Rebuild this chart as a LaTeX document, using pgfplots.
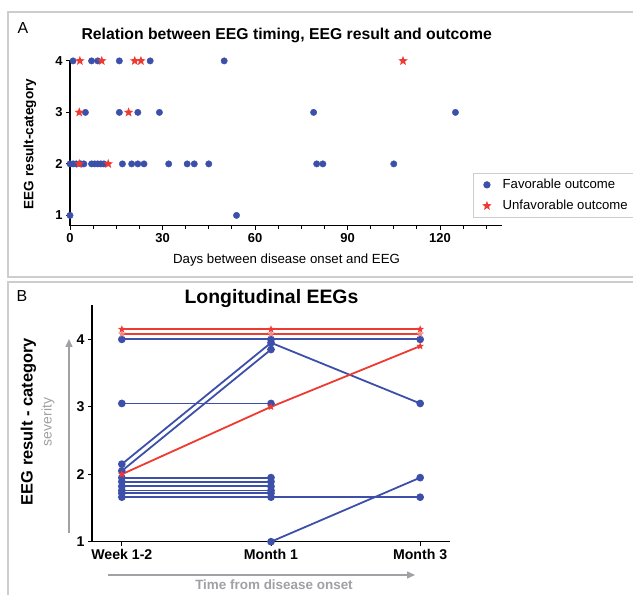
\documentclass[border=0pt]{standalone}
\usepackage{pgfplots}
\pgfplotsset{compat=1.18}
\usepackage{fontspec}
\setmainfont{Liberation Sans}
\usetikzlibrary{arrows.meta}
\definecolor{cblue}{RGB}{60,80,170}
\definecolor{cred}{RGB}{238,58,48}
\definecolor{cpink}{RGB}{240,140,140}
\definecolor{fgray}{RGB}{205,205,205}
\definecolor{tgray}{RGB}{160,160,165}
\pgfdeclareplotmark{fstar}{%
\pgfpathmoveto{\pgfpointpolar{90}{\pgfplotmarksize}}%
\pgfpathlineto{\pgfpointpolar{126}{0.42\pgfplotmarksize}}%
\pgfpathlineto{\pgfpointpolar{162}{\pgfplotmarksize}}%
\pgfpathlineto{\pgfpointpolar{198}{0.42\pgfplotmarksize}}%
\pgfpathlineto{\pgfpointpolar{234}{\pgfplotmarksize}}%
\pgfpathlineto{\pgfpointpolar{270}{0.42\pgfplotmarksize}}%
\pgfpathlineto{\pgfpointpolar{306}{\pgfplotmarksize}}%
\pgfpathlineto{\pgfpointpolar{342}{0.42\pgfplotmarksize}}%
\pgfpathlineto{\pgfpointpolar{18}{\pgfplotmarksize}}%
\pgfpathlineto{\pgfpointpolar{54}{0.42\pgfplotmarksize}}%
\pgfpathclose
\pgfusepathqfill}
\pgfplotsset{
  bl/.style={cblue, line width=1.8bp, mark=*, mark size=2.9bp, mark options={solid}},
  rd/.style={cred, line width=1.8bp, mark=fstar, mark size=4bp},
}
\begin{document}
\begin{tikzpicture}[x=1bp,y=1bp]
\useasboundingbox (0,0) rectangle (633,595);
\fill[white] (0,0) rectangle (633,595);
\draw[fgray, line width=1.2bp] (8,318) rectangle (650,583);
\draw[fgray, line width=1.2bp] (8,-20) rectangle (650,313);
\node[font=\fontsize{16}{16}\selectfont] at (23,567) {A};
\node[font=\fontsize{16}{16}\selectfont] at (22,299) {B};
% ---------- Panel A ----------
\begin{axis}[at={(70bp,369.3bp)}, anchor=south west, scale only axis,
  width=431.7bp, height=164.8bp,
  xmin=0, xmax=140, ymin=0.8, ymax=4,
  axis x line*=bottom, axis y line*=left,
  xtick={0,30,60,90,120}, minor xtick={7.5,15,22.5,37.5,45,52.5,67.5,75,82.5,97.5,105,112.5,127.5,135},
  ytick={1,2,3,4},
  tick align=outside, major tick length=4bp, minor tick length=3bp,
  tick style={black, line width=0.9bp},
  axis line style={line width=1.2bp},
  ticklabel style={font=\bfseries\fontsize{13}{13}\selectfont},
  /pgf/number format/assume math mode=true,
  clip=false,
  legend style={at={(0.933,0.32)}, anchor=north west, draw=fgray, line width=0.8bp,
    font=\fontsize{13.2}{15}\selectfont, cells={anchor=west}, inner xsep=9bp, inner ysep=4bp,
    row sep=6bp, column sep=9bp},
  legend cell align=left,
]
\addplot[only marks, mark=*, mark size=3.2bp, color=cblue] coordinates {
(1,4)(7,4)(9,4)(16,4)(26,4)(50,4)
(5,3)(16,3)(22,3)(29,3)(79,3)(125,3)
(0,2)(1,2)(2,2)(3.5,2)(4.5,2)(7,2)(8,2)(9,2)(10,2)(11,2)(17,2)(20,2)(22,2)(24,2)(32,2)(38,2)(40.3,2)(45,2)(80,2)(82,2)(105,2)
(0,1)(54,1)
};
\addlegendentry{Favorable outcome}
\addplot[only marks, mark=fstar, mark size=5bp, color=cred] coordinates {
(3.2,4)(10.3,4)(21,4)(23,4)(108,4)
(3,3)(19,3)
(3,2)(12.4,2)
};
\addlegendentry{Unfavorable outcome}
\end{axis}
\node[font=\bfseries\fontsize{15.8}{16}\selectfont] at (286.7,560) {Relation between EEG timing, EEG result and outcome};
\node[font=\bfseries\fontsize{13.6}{14}\selectfont, rotate=90] at (30,451) {EEG result-category};
\node[font=\fontsize{13.3}{14}\selectfont] at (286.5,335) {Days between disease onset and EEG};
% ---------- Panel B ----------
\begin{axis}[at={(92bp,53.3bp)}, anchor=south west, scale only axis,
  width=358bp, height=236.7bp,
  xmin=-0.2, xmax=2.2, ymin=1, ymax=4.51,
  axis x line*=bottom, axis y line*=left,
  xtick={0,1,2}, xticklabels={Week 1-2, Month 1, Month 3},
  ytick={1,2,3,4},
  tick align=outside, major tick length=4bp,
  tick style={black, line width=0.9bp},
  axis line style={line width=1.2bp},
  ticklabel style={font=\bfseries\fontsize{14.2}{14}\selectfont},
  /pgf/number format/assume math mode=true,
  clip=false,
]
\addplot[bl] coordinates {(0,4.0)(1,4.0)(2,4.0)};
\addplot[bl] coordinates {(0,2.15)(1,3.95)(2,3.05)};
\addplot[bl] coordinates {(0,2.05)(1,3.85)};
\addplot[bl] coordinates {(0,3.05)(1,3.05)};
\addplot[bl] coordinates {(0,1.95)(1,1.95)};
\addplot[bl] coordinates {(0,1.89)(1,1.89)};
\addplot[bl] coordinates {(0,1.82)(1,1.82)};
\addplot[bl] coordinates {(0,1.76)(1,1.76)};
\addplot[bl] coordinates {(0,1.72)(1,1.72)};
\addplot[bl] coordinates {(0,1.66)(1,1.66)(2,1.66)};
\addplot[bl] coordinates {(1,1.0)(2,1.95)};
\addplot[rd, mark options={fill=cpink,draw=cpink}] coordinates {(0,4.08)(1,4.08)(2,4.08)};
\addplot[rd] coordinates {(0,4.15)(1,4.15)(2,4.15)};
\addplot[rd] coordinates {(0,2.0)(1,3.0)(2,3.9)};
\end{axis}
\node[font=\bfseries\fontsize{19.5}{20}\selectfont] at (271.5,296) {Longitudinal EEGs};
\node[font=\bfseries\fontsize{16.5}{17}\selectfont, rotate=90] at (28.3,173.5) {EEG result - category};
\node[font=\fontsize{14}{14}\selectfont, rotate=90, text=tgray] at (48,173) {severity};
\draw[tgray, line width=1.5bp, -{Triangle[length=8bp,width=7bp]}] (69,62) -- (69,256);
\draw[tgray, line width=1.5bp, -{Triangle[length=8bp,width=7bp]}] (108,20) -- (415,20);
\node[font=\bfseries\fontsize{13.5}{14}\selectfont, text=tgray] at (274,10) {Time from disease onset};
\end{tikzpicture}
\end{document}
